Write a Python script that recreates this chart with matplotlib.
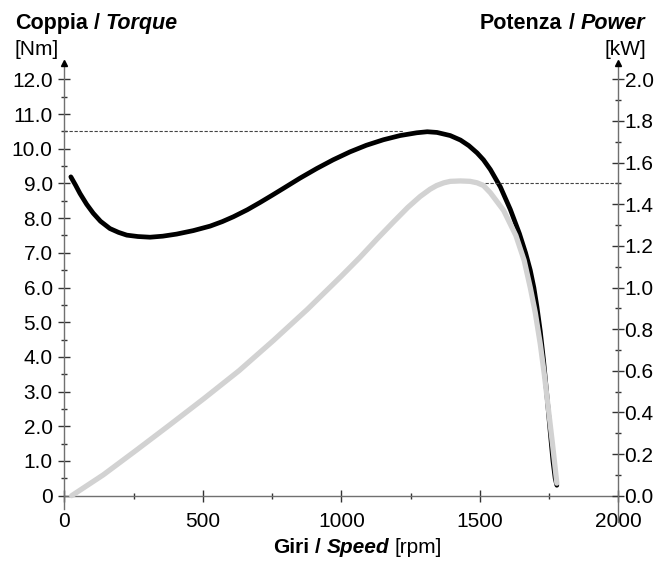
import numpy as np
import matplotlib
matplotlib.use('Agg')
import matplotlib.pyplot as plt
from matplotlib.ticker import MultipleLocator, FuncFormatter

plt.rcParams['font.family'] = ['Liberation Sans', 'DejaVu Sans']

# torque curve [Nm] vs speed [rpm]
torque_rpm = [23, 40, 56, 80, 104, 130, 164, 195, 225, 265, 309, 355, 405, 465,
              526, 570, 610, 660, 706, 750, 791, 850, 911, 970, 1031, 1090,
              1152, 1212, 1272, 1310, 1345, 1393, 1430, 1460, 1490, 1513, 1538,
              1574, 1610, 1643, 1665, 1682, 1695, 1706, 1718, 1730, 1742, 1754,
              1764, 1772, 1778]
torque_nm = [9.19, 8.95, 8.71, 8.40, 8.14, 7.91, 7.70, 7.59, 7.51, 7.47, 7.45,
             7.48, 7.54, 7.64, 7.77, 7.90, 8.04, 8.24, 8.45, 8.66, 8.86, 9.15,
             9.43, 9.68, 9.91, 10.10, 10.26, 10.38, 10.46, 10.49, 10.47, 10.38,
             10.25, 10.09, 9.88, 9.68, 9.40, 8.90, 8.25, 7.55, 7.00, 6.50, 6.00,
             5.45, 4.75, 3.90, 2.90, 1.85, 1.00, 0.50, 0.30]

# power curve [kW] vs speed [rpm]
power_rpm = [26, 140, 261, 380, 505, 630, 754, 877, 1000, 1067, 1130, 1188,
             1240, 1284, 1320, 1344, 1370, 1393, 1430, 1465, 1490, 1513, 1538,
             1586, 1630, 1660, 1682, 1700, 1718, 1733, 1748, 1763, 1778]
power_kw = [0.0, 0.10, 0.22, 0.34, 0.468, 0.60, 0.745, 0.895, 1.055, 1.145,
            1.235, 1.315, 1.385, 1.437, 1.472, 1.49, 1.503, 1.51, 1.512, 1.51,
            1.503, 1.49, 1.455, 1.37, 1.25, 1.13, 1.00, 0.88, 0.73, 0.58, 0.41,
            0.24, 0.06]

max_torque = 10.5
max_power = 1.5

W, H = 658, 568
fig = plt.figure(figsize=(W / 100, H / 100), dpi=100)
ax = fig.add_axes([0.098, 0.0815, 0.8417, 0.8075])
ax2 = ax.twinx()

y_lo, y_hi = -0.75, 12.47
ax.set_xlim(0, 2000)
ax.set_ylim(y_lo, y_hi)
ax2.set_ylim(y_lo / 6, y_hi / 6)

axis_col = '#707070'
for a in (ax, ax2):
    for s in a.spines.values():
        s.set_color(axis_col)
        s.set_linewidth(1.0)
    a.spines['top'].set_visible(False)
    a.patch.set_visible(False)
ax.spines['bottom'].set_position(('data', 0))
ax.spines['left'].set_bounds(-0.37, y_hi)
ax.spines['right'].set_visible(False)
ax2.spines['left'].set_visible(False)
ax2.spines['bottom'].set_visible(False)

# dashed reference lines
ax.plot([0, 1225], [max_torque, max_torque], color='#444444', lw=0.8,
        dashes=(3, 1.5))
ax2.plot([1500, 2000], [max_power, max_power], color='#444444', lw=0.8,
         dashes=(3, 1.5))

ax.plot(torque_rpm, torque_nm, color='black', lw=3.4, solid_capstyle='round',
        solid_joinstyle='round', zorder=3)
ax2.plot(power_rpm, power_kw, color='#d2d2d2', lw=3.8, solid_capstyle='round',
         solid_joinstyle='round', zorder=4)

# ticks
ax.xaxis.set_major_locator(MultipleLocator(500))
ax.xaxis.set_minor_locator(MultipleLocator(250))
ax.set_yticks(np.arange(0, 12.01, 1))
ax2.set_yticks(np.arange(0, 2.001, 0.2))
ax.set_yticks(np.arange(0.5, 12.01, 1), minor=True)
ax2.set_yticks(np.arange(0.1, 2.0, 0.2), minor=True)

ax.yaxis.set_major_formatter(FuncFormatter(lambda v, p: '0' if abs(v) < 1e-9 else '%.1f' % v))
ax2.yaxis.set_major_formatter(FuncFormatter(lambda v, p: '%.1f' % v))
ax.xaxis.set_major_formatter(FuncFormatter(lambda v, p: '%d' % v))

tick_col = '#333333'
for a in (ax, ax2):
    a.tick_params(which='major', direction='inout', length=9, width=1.0,
                  color=tick_col, labelsize=15, labelcolor='black')
    a.tick_params(which='minor', direction='inout', length=5, width=1.0,
                  color=tick_col)
ax.tick_params(axis='y', pad=4)
ax.tick_params(axis='x', pad=7)
ax2.tick_params(axis='y', pad=0)

# arrows on top of vertical axes
ax.plot([0], [y_hi], marker='^', ms=4.5, color='black', clip_on=False, zorder=5)
ax2.plot([2000], [y_hi / 6], marker='^', ms=4.5, color='black', clip_on=False,
         zorder=5)


def rich_text(x, y, parts, ha='left', size=13):
    # parts: list of (text, weight, style); x, y in pixels (y from top)
    r = fig.canvas.get_renderer()
    sp = fig.text(0, 0, 'a a', fontsize=size, fontweight='bold')
    nsp = fig.text(0, 0, 'aa', fontsize=size, fontweight='bold')
    space = sp.get_window_extent(r).width - nsp.get_window_extent(r).width
    sp.remove()
    nsp.remove()
    texts = []
    total = 0
    for s, w, st in parts:
        t = fig.text(0, 0, s, fontsize=size, fontweight=w, fontstyle=st,
                     va='baseline')
        wid = t.get_window_extent(r).width
        texts.append((t, wid))
        total += wid + space
    total -= space
    cx = x if ha == 'left' else x - total
    for t, wid in texts:
        t.set_position((cx / W, 1 - y / H))
        cx += wid + space


rich_text(15, 29, [('Coppia', 'bold', 'normal'), ('/', 'bold', 'normal'),
                   ('Torque', 'bold', 'italic')], size=15.5)
fig.text(15 / W, 1 - 55 / H, '[Nm]', fontsize=15, va='baseline')
rich_text(645, 29, [('Potenza', 'bold', 'normal'), ('/', 'bold', 'normal'),
                    ('Power', 'bold', 'italic')], ha='right', size=15.5)
fig.text(646 / W, 1 - 55 / H, '[kW]', fontsize=15, va='baseline', ha='right')
rich_text(273, 553, [('Giri', 'bold', 'normal'), ('/', 'bold', 'normal'),
                     ('Speed', 'bold', 'italic'), ('[rpm]', 'normal', 'normal')],
          size=15)

fig.savefig('out.png', dpi=100)
